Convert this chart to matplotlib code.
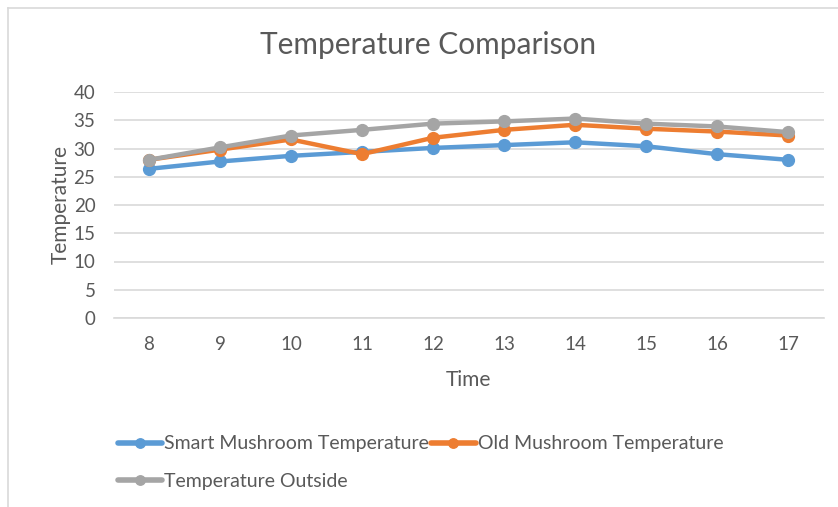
import matplotlib.pyplot as plt
from matplotlib.lines import Line2D

plt.rcParams['font.family'] = ['Lato', 'DejaVu Sans']

hours = [8, 9, 10, 11, 12, 13, 14, 15, 16, 17]
smart_temp = [26.4, 27.7, 28.7, 29.4, 30.1, 30.6, 31.1, 30.4, 29.0, 28.0]
old_temp = [28.0, 29.8, 31.6, 29.0, 31.9, 33.3, 34.2, 33.5, 33.0, 32.3]
outside_temp = [28.0, 30.2, 32.3, 33.3, 34.4, 34.8, 35.3, 34.4, 33.9, 32.9]
y_ticks = [0, 5, 10, 15, 20, 25, 30, 35, 40]

W, H = 838, 507
fig = plt.figure(figsize=(W / 100, H / 100), dpi=100)
ax = fig.add_axes([113.5 / W, 1 - 318 / H, (823.5 - 113.5) / W, (318 - 92) / H])

text_col = '#595959'
series = [
    (smart_temp, '#5b9bd5', 'Smart Mushroom Temperature'),
    (old_temp, '#ed7d31', 'Old Mushroom Temperature'),
    (outside_temp, '#a5a5a5', 'Temperature Outside'),
]
lines = []
for vals, col, name in series:
    ln, = ax.plot(hours, vals, color=col, lw=3.2, marker='o', ms=8.5,
                  label=name, solid_capstyle='round', zorder=3)
    lines.append(ln)

ax.set_xlim(7.5, 17.5)
ax.set_ylim(0, 40)
ax.set_yticks(y_ticks)
ax.set_xticks(hours)
ax.grid(axis='y', color='#d9d9d9', lw=1.2)
ax.set_axisbelow(True)
for s in ['top', 'right', 'left']:
    ax.spines[s].set_visible(False)
ax.spines['bottom'].set_color('#d9d9d9')
ax.spines['bottom'].set_linewidth(1.2)
ax.tick_params(length=0, labelsize=13.5, colors=text_col)
ax.tick_params(axis='x', pad=13)
ax.tick_params(axis='y', pad=13)

ax.set_xlabel('Time', fontsize=15, color=text_col, labelpad=12)
ax.set_ylabel('Temperature', fontsize=15, color=text_col, labelpad=2)

fig.text(428 / W, 1 - 45 / H, 'Temperature Comparison', ha='center', va='center',
         fontsize=21.5, color=text_col)

leg = fig.legend([lines[0], lines[2], lines[1]],
                 [lines[0].get_label(), lines[2].get_label(), lines[1].get_label()],
                 ncol=2, loc='upper left', bbox_to_anchor=(100 / W, 1 - 418 / H),
                 frameon=False, fontsize=14, labelcolor=text_col,
                 handlelength=2.3, handletextpad=0.1, columnspacing=0.1,
                 labelspacing=1.05, markerscale=0.8)
for h in leg.legend_handles:
    h.set_linewidth(4)

# chart-area border (only left and top edges fall inside the picture)
fig.add_artist(Line2D([8 / W, 8 / W], [0, 1 - 8 / H], transform=fig.transFigure,
                      color='#d9d9d9', lw=1.2))
fig.add_artist(Line2D([8 / W, 1], [1 - 8 / H, 1 - 8 / H], transform=fig.transFigure,
                      color='#d9d9d9', lw=1.2))

fig.savefig('out.png', dpi=100)
